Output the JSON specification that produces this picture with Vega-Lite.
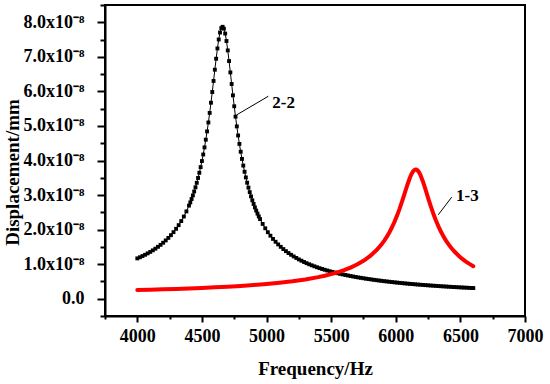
{
 "$schema": "https://vega.github.io/schema/vega-lite/v6.json",
 "width": 420, "height": 311,
 "autosize": {"type": "none"},
 "padding": {"left": 105, "top": 5, "right": 25, "bottom": 68},
 "background": "white",
 "view": {"stroke": "black", "strokeWidth": 2},
 "config": {"font": "Liberation Serif"},
 "datasets": {
  "m22": [
   {"f":4000,"v":1.167},{"f":4020,"v":1.200},{"f":4040,"v":1.235},{"f":4060,"v":1.272},{"f":4080,"v":1.312},{"f":4100,"v":1.355},{"f":4120,"v":1.400},{"f":4140,"v":1.449},{"f":4160,"v":1.502},{"f":4180,"v":1.559},{"f":4200,"v":1.620},{"f":4220,"v":1.687},{"f":4240,"v":1.760},{"f":4260,"v":1.839},{"f":4280,"v":1.926},{"f":4300,"v":2.023},{"f":4320,"v":2.129},{"f":4340,"v":2.247},{"f":4360,"v":2.379},{"f":4380,"v":2.527},{"f":4400,"v":2.695},
   {"f":4410,"v":2.787},{"f":4420,"v":2.885},{"f":4430,"v":2.990},{"f":4440,"v":3.103},{"f":4450,"v":3.224},{"f":4460,"v":3.354},{"f":4470,"v":3.494},{"f":4480,"v":3.645},{"f":4490,"v":3.808},{"f":4500,"v":3.984},{"f":4510,"v":4.174},{"f":4520,"v":4.380},{"f":4530,"v":4.602},{"f":4540,"v":4.842},{"f":4550,"v":5.101},{"f":4560,"v":5.377},{"f":4570,"v":5.672},{"f":4580,"v":5.982},{"f":4590,"v":6.302},{"f":4600,"v":6.627},{"f":4610,"v":6.945},{"f":4620,"v":7.243},{"f":4630,"v":7.502},{"f":4640,"v":7.704},{"f":4650,"v":7.831},{"f":4660,"v":7.869},{"f":4670,"v":7.816},{"f":4680,"v":7.674},{"f":4690,"v":7.458},{"f":4700,"v":7.186},{"f":4710,"v":6.877},{"f":4720,"v":6.549},{"f":4730,"v":6.214},{"f":4740,"v":5.886},{"f":4750,"v":5.569},{"f":4760,"v":5.269},{"f":4770,"v":4.987},{"f":4780,"v":4.724},{"f":4790,"v":4.480},{"f":4800,"v":4.254},{"f":4810,"v":4.045},{"f":4820,"v":3.853},{"f":4830,"v":3.674},{"f":4840,"v":3.510},{"f":4850,"v":3.357},{"f":4860,"v":3.216},{"f":4870,"v":3.084},{"f":4880,"v":2.962},{"f":4890,"v":2.848},{"f":4900,"v":2.742},{"f":4910,"v":2.643},{"f":4920,"v":2.550},{"f":4930,"v":2.463},{"f":4940,"v":2.381},{"f":4950,"v":2.304},
   {"f":4970,"v":2.164},{"f":4990,"v":2.038},{"f":5010,"v":1.925},{"f":5030,"v":1.824},{"f":5050,"v":1.731},{"f":5070,"v":1.648},{"f":5090,"v":1.571},{"f":5110,"v":1.501},{"f":5130,"v":1.437},{"f":5150,"v":1.377},{"f":5170,"v":1.322},{"f":5190,"v":1.271},{"f":5210,"v":1.224},{"f":5230,"v":1.180},{"f":5250,"v":1.138},{"f":5270,"v":1.100},{"f":5290,"v":1.063},{"f":5310,"v":1.029},{"f":5330,"v":0.997},{"f":5350,"v":0.967},{"f":5370,"v":0.938},{"f":5390,"v":0.911},{"f":5410,"v":0.885},{"f":5430,"v":0.861},{"f":5450,"v":0.838},{"f":5470,"v":0.816},{"f":5490,"v":0.795},{"f":5510,"v":0.775},{"f":5530,"v":0.756},{"f":5550,"v":0.737},{"f":5570,"v":0.720},{"f":5590,"v":0.703},{"f":5610,"v":0.687},{"f":5630,"v":0.672},{"f":5650,"v":0.657},{"f":5670,"v":0.643},{"f":5690,"v":0.629},{"f":5710,"v":0.616},{"f":5730,"v":0.604},{"f":5750,"v":0.592},{"f":5770,"v":0.580},{"f":5790,"v":0.569},{"f":5810,"v":0.558},{"f":5830,"v":0.547},{"f":5850,"v":0.537},{"f":5870,"v":0.527},{"f":5890,"v":0.518},{"f":5910,"v":0.508},{"f":5930,"v":0.500},{"f":5950,"v":0.491},{"f":5970,"v":0.483},{"f":5990,"v":0.474},{"f":6010,"v":0.467},{"f":6030,"v":0.459},{"f":6050,"v":0.451},{"f":6070,"v":0.444},{"f":6090,"v":0.437},{"f":6110,"v":0.430},{"f":6130,"v":0.424},{"f":6150,"v":0.417},{"f":6170,"v":0.411},{"f":6190,"v":0.405},{"f":6210,"v":0.399},{"f":6230,"v":0.393},{"f":6250,"v":0.388},{"f":6270,"v":0.382},{"f":6290,"v":0.377},{"f":6310,"v":0.372},{"f":6330,"v":0.366},{"f":6350,"v":0.361},{"f":6370,"v":0.357},{"f":6390,"v":0.352},{"f":6410,"v":0.347},{"f":6430,"v":0.343},{"f":6450,"v":0.338},{"f":6470,"v":0.334},{"f":6490,"v":0.330},{"f":6510,"v":0.326},{"f":6530,"v":0.322},{"f":6550,"v":0.318},{"f":6570,"v":0.314},{"f":6590,"v":0.310},{"f":6600,"v":0.308}
  ],
  "m13": [
   {"f":4000,"v":0.252},{"f":4100,"v":0.262},{"f":4200,"v":0.273},{"f":4300,"v":0.284},{"f":4400,"v":0.298},{"f":4500,"v":0.313},{"f":4600,"v":0.329},{"f":4700,"v":0.349},{"f":4800,"v":0.371},{"f":4900,"v":0.396},{"f":5000,"v":0.427},{"f":5100,"v":0.462},{"f":5200,"v":0.505},{"f":5300,"v":0.559},{"f":5400,"v":0.625},{"f":5450,"v":0.665},{"f":5500,"v":0.712},{"f":5550,"v":0.765},{"f":5600,"v":0.827},{"f":5650,"v":0.901},{"f":5700,"v":0.989},{"f":5750,"v":1.097},{"f":5800,"v":1.231},{"f":5850,"v":1.402},{"f":5870,"v":1.483},{"f":5890,"v":1.574},{"f":5910,"v":1.675},{"f":5930,"v":1.789},{"f":5950,"v":1.917},{"f":5970,"v":2.061},{"f":5990,"v":2.224},{"f":6010,"v":2.406},{"f":6030,"v":2.609},{"f":6050,"v":2.830},{"f":6070,"v":3.064},{"f":6090,"v":3.298},{"f":6110,"v":3.508},{"f":6120,"v":3.595},{"f":6130,"v":3.665},{"f":6140,"v":3.713},{"f":6150,"v":3.738},{"f":6160,"v":3.737},{"f":6170,"v":3.711},{"f":6180,"v":3.660},{"f":6190,"v":3.588},{"f":6210,"v":3.395},{"f":6230,"v":3.163},{"f":6250,"v":2.921},{"f":6270,"v":2.686},{"f":6290,"v":2.467},{"f":6310,"v":2.270},{"f":6330,"v":2.093},{"f":6350,"v":1.937},{"f":6370,"v":1.798},{"f":6390,"v":1.675},{"f":6410,"v":1.565},{"f":6430,"v":1.468},{"f":6450,"v":1.381},{"f":6480,"v":1.266},{"f":6510,"v":1.167},{"f":6540,"v":1.082},{"f":6570,"v":1.008},{"f":6600,"v":0.942}
  ],
  "leaders": [
   {"f":4769,"v":5.32,"f2":5014,"v2":5.86},
   {"f":6329,"v":2.43,"f2":6433,"v2":2.94}
  ],
  "tags": [
   {"f":5045,"v":5.67,"label":"2-2"},
   {"f":6466,"v":2.98,"label":"1-3"}
  ]
 },
 "encoding": {
  "x": {"field": "f", "type": "quantitative",
   "scale": {"domain": [3750, 7000], "nice": false, "zero": false},
   "axis": {"title": "Frequency/Hz",
    "values": [3750,4000,4250,4500,4750,5000,5250,5500,5750,6000,6250,6500,6750,7000],
    "format": "d",
    "labelExpr": "datum.value % 500 == 0 ? datum.label : ''",
    "grid": false, "domainColor": "black", "domainWidth": 2,
    "tickColor": "black", "tickWidth": 2,
    "tickSize": {"condition": {"test": "datum.value % 500 == 0", "value": 6}, "value": 3},
    "labelFont": "Liberation Serif", "labelFontWeight": "bold", "labelFontSize": 18, "labelColor": "black",
    "labelPadding": 5, "labelFlush": false, "labelOverlap": false,
    "titleFont": "Liberation Serif", "titleFontWeight": "bold", "titleFontSize": 19, "titleColor": "black",
    "titleY": 58, "titleBaseline": "alphabetic"}},
  "y": {"field": "v", "type": "quantitative",
   "scale": {"domain": [-0.5, 8.5], "nice": false, "zero": false},
   "axis": {"title": "Displacement/mm",
    "values": [-0.5,0,0.5,1,1.5,2,2.5,3,3.5,4,4.5,5,5.5,6,6.5,7,7.5,8,8.5],
    "labelExpr": "(datum.value < 0 || datum.value % 1 != 0) ? '' : (datum.value == 0 ? '0.0' : format(datum.value, '.1f') + 'x10⁻⁸')",
    "grid": false, "domainColor": "black", "domainWidth": 2,
    "tickColor": "black", "tickWidth": 2,
    "tickSize": {"condition": {"test": "datum.value % 1 == 0", "value": 8}, "value": 5},
    "labelFont": "Liberation Serif", "labelFontWeight": "bold", "labelFontSize": 18, "labelColor": "black",
    "labelPadding": 13, "labelOverlap": false, "labelBaseline": "middle",
    "titleFont": "Liberation Serif", "titleFontWeight": "bold", "titleFontSize": 19, "titleColor": "black",
    "titleX": -87, "titleY": 167, "titleAngle": -90, "titleBaseline": "alphabetic", "titleAlign": "center"}}
 },
 "layer": [
  {"data": {"name": "m22"}, "mark": {"type": "line", "color": "black", "strokeWidth": 1}},
  {"data": {"name": "m22"}, "mark": {"type": "point", "shape": "square", "filled": true, "color": "black", "size": 15, "opacity": 1}},
  {"data": {"name": "m13"}, "mark": {"type": "line", "color": "#ff0000", "strokeWidth": 4, "strokeJoin": "round", "strokeCap": "round"}},
  {"data": {"name": "leaders"}, "mark": {"type": "rule", "color": "black", "strokeWidth": 1},
   "encoding": {"x2": {"field": "f2"}, "y2": {"field": "v2"}}},
  {"data": {"name": "tags"}, "mark": {"type": "text", "align": "left", "baseline": "middle", "font": "Liberation Serif", "fontWeight": "bold", "fontSize": 17, "color": "black"},
   "encoding": {"text": {"field": "label"}}}
 ]
}
